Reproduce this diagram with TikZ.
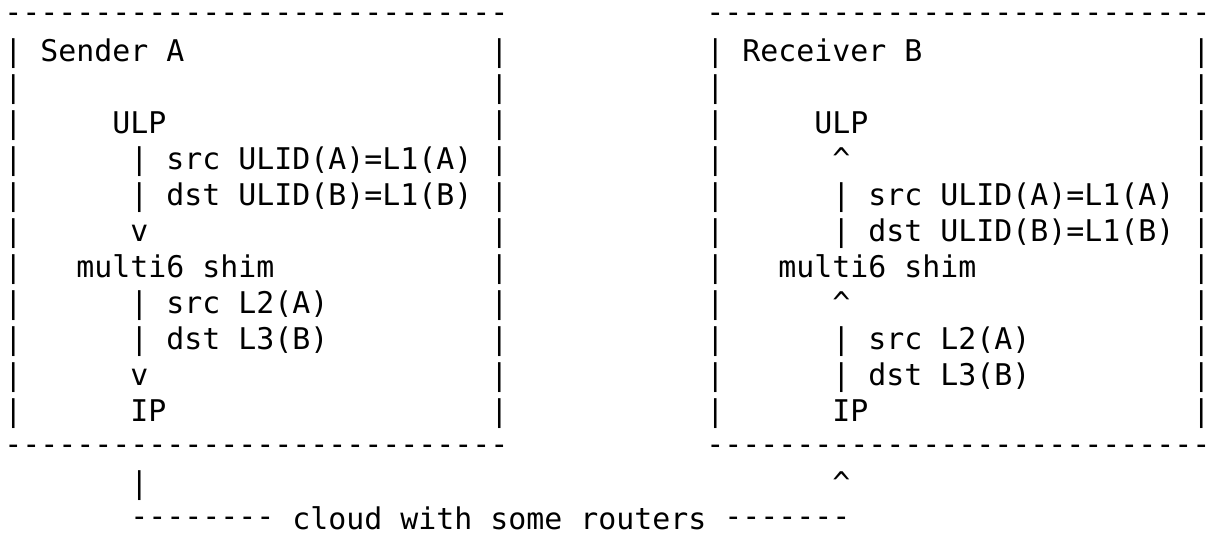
\documentclass[tikz,border=0pt]{standalone}
\usepackage{fontspec}
\setmonofont{DejaVu Sans Mono}
\newcommand\ascnode[4]{\node[asc] (#1) at (#2+0.239,#3+0.711) {#4};}
\newcommand\dashrun[1]{\raisebox{3.5pt}{#1}}
\begin{document}
\begin{tikzpicture}[x=18pt,y=-36pt,
  asc/.style={anchor=base west,inner sep=0pt,outer sep=0pt,
    font=\ttfamily\fontsize{29.9}{36}\selectfont,text=black}]
\useasboundingbox (0,0) rectangle (67.556,15.417);
% line 0
\ascnode{atop}{0}{0}{\dashrun{----------------------------}}
\ascnode{btop}{39}{0}{\dashrun{----------------------------}}
% line 1
\ascnode{al1}{0}{1}{|}\ascnode{asend}{2}{1}{Sender A}\ascnode{ar1}{27}{1}{|}
\ascnode{bl1}{39}{1}{|}\ascnode{brecv}{41}{1}{Receiver B}\ascnode{br1}{66}{1}{|}
% line 2
\ascnode{al2}{0}{2}{|}\ascnode{ar2}{27}{2}{|}\ascnode{bl2}{39}{2}{|}\ascnode{br2}{66}{2}{|}
% line 3
\ascnode{al3}{0}{3}{|}\ascnode{aulp}{6}{3}{ULP}\ascnode{ar3}{27}{3}{|}
\ascnode{bl3}{39}{3}{|}\ascnode{bulp}{45}{3}{ULP}\ascnode{br3}{66}{3}{|}
% line 4
\ascnode{al4}{0}{4}{|}\ascnode{ap4}{7}{4}{|}\ascnode{asrc1}{9}{4}{src ULID(A)=L1(A)}\ascnode{ar4}{27}{4}{|}
\ascnode{bl4}{39}{4}{|}\ascnode{bup1}{46}{4}{\textasciicircum}\ascnode{br4}{66}{4}{|}
% line 5
\ascnode{al5}{0}{5}{|}\ascnode{ap5}{7}{5}{|}\ascnode{adst1}{9}{5}{dst ULID(B)=L1(B)}\ascnode{ar5}{27}{5}{|}
\ascnode{bl5}{39}{5}{|}\ascnode{bp5}{46}{5}{|}\ascnode{bsrc1}{48}{5}{src ULID(A)=L1(A)}\ascnode{br5}{66}{5}{|}
% line 6
\ascnode{al6}{0}{6}{|}\ascnode{adn1}{7}{6}{v}\ascnode{ar6}{27}{6}{|}
\ascnode{bl6}{39}{6}{|}\ascnode{bp6}{46}{6}{|}\ascnode{bdst1}{48}{6}{dst ULID(B)=L1(B)}\ascnode{br6}{66}{6}{|}
% line 7
\ascnode{al7}{0}{7}{|}\ascnode{ashim}{4}{7}{multi6 shim}\ascnode{ar7}{27}{7}{|}
\ascnode{bl7}{39}{7}{|}\ascnode{bshim}{43}{7}{multi6 shim}\ascnode{br7}{66}{7}{|}
% line 8
\ascnode{al8}{0}{8}{|}\ascnode{ap8}{7}{8}{|}\ascnode{asrc2}{9}{8}{src L2(A)}\ascnode{ar8}{27}{8}{|}
\ascnode{bl8}{39}{8}{|}\ascnode{bup2}{46}{8}{\textasciicircum}\ascnode{br8}{66}{8}{|}
% line 9
\ascnode{al9}{0}{9}{|}\ascnode{ap9}{7}{9}{|}\ascnode{adst2}{9}{9}{dst L3(B)}\ascnode{ar9}{27}{9}{|}
\ascnode{bl9}{39}{9}{|}\ascnode{bp9}{46}{9}{|}\ascnode{bsrc2}{48}{9}{src L2(A)}\ascnode{br9}{66}{9}{|}
% line 10
\ascnode{al10}{0}{10}{|}\ascnode{adn2}{7}{10}{v}\ascnode{ar10}{27}{10}{|}
\ascnode{bl10}{39}{10}{|}\ascnode{bp10}{46}{10}{|}\ascnode{bdst2}{48}{10}{dst L3(B)}\ascnode{br10}{66}{10}{|}
% line 11
\ascnode{al11}{0}{11}{|}\ascnode{aip}{7}{11}{IP}\ascnode{ar11}{27}{11}{|}
\ascnode{bl11}{39}{11}{|}\ascnode{bip}{46}{11}{IP}\ascnode{br11}{66}{11}{|}
% line 12
\ascnode{abot}{0}{12}{\dashrun{----------------------------}}
\ascnode{bbot}{39}{12}{\dashrun{----------------------------}}
% line 13
\ascnode{aout}{7}{13}{|}\ascnode{bin}{46}{13}{\textasciicircum}
% line 14
\ascnode{cl}{7}{14}{\dashrun{--------}}
\ascnode{cloud}{16}{14}{cloud with some routers}
\ascnode{cr}{40}{14}{\dashrun{-------}}
\end{tikzpicture}
\end{document}
